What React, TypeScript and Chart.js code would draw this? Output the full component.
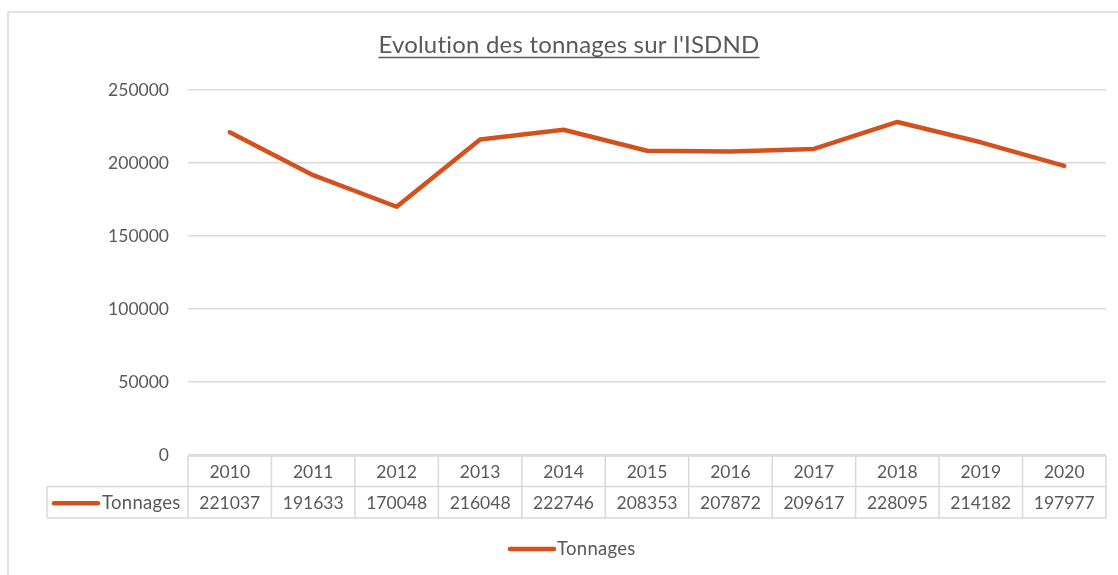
import React, { useEffect, useRef } from "react";
import { Chart, registerables } from "chart.js";

Chart.register(...registerables);

const years = ["2010", "2011", "2012", "2013", "2014", "2015", "2016", "2017", "2018", "2019", "2020"];
const tonnages = [221037, 191633, 170048, 216048, 222746, 208353, 207872, 209617, 228095, 214182, 197977];
const yMin = 0;
const yMax = 250000;
const yStep = 50000;
const seriesName = "Tonnages";
const titleText = "Evolution des tonnages sur l'ISDND";

const LINE = "#d4511e";
const TEXT = "#595959";
const GRID = "#d9d9d9";
const FONT = "Lato, 'Open Sans', sans-serif";

const W = 1118;
const H = 575;

const tablePlugin = {
  id: "excelTable",
  afterDraw(chart: any) {
    const ctx = chart.ctx as CanvasRenderingContext2D;
    const xs = chart.scales.x;
    const ys = chart.scales.y;
    ctx.save();
    (ctx as any).letterSpacing = "0.2px";

    // outer frame (left + top visible)
    ctx.strokeStyle = GRID;
    ctx.lineWidth = 1.5;
    ctx.beginPath();
    ctx.moveTo(8, H);
    ctx.lineTo(8, 12);
    ctx.lineTo(W, 12);
    ctx.stroke();

    // title
    ctx.font = `22px ${FONT}`;
    const mw = ctx.measureText(titleText).width;
    const tSize = (22 * 382) / mw;
    ctx.font = `${tSize}px ${FONT}`;
    const tw = ctx.measureText(titleText).width;
    const cx = 569;
    ctx.fillStyle = TEXT;
    ctx.textAlign = "center";
    ctx.textBaseline = "alphabetic";
    ctx.fillText(titleText, cx, 53);
    ctx.strokeStyle = TEXT;
    ctx.lineWidth = 1.5;
    ctx.beginPath();
    ctx.moveTo(cx - tw / 2, 57.5);
    ctx.lineTo(cx + tw / 2, 57.5);
    ctx.stroke();

    // data table
    const n = years.length;
    const step = xs.getPixelForValue(1) - xs.getPixelForValue(0);
    const left = xs.getPixelForValue(0) - step / 2;
    const right = xs.getPixelForValue(n - 1) + step / 2;
    const zeroY = ys.getPixelForValue(0);
    const rTop = zeroY + 1;
    const rMid = zeroY + 31.5;
    const rBot = zeroY + 63;
    const leftCell = 47;

    ctx.strokeStyle = GRID;
    ctx.lineWidth = 1.5;
    ctx.beginPath();
    ctx.moveTo(left, rTop);
    ctx.lineTo(right, rTop);
    ctx.moveTo(leftCell, rMid);
    ctx.lineTo(right, rMid);
    ctx.moveTo(leftCell, rBot);
    ctx.lineTo(right, rBot);
    for (let i = 0; i <= n; i++) {
      const bx = left + i * step;
      ctx.moveTo(bx, rTop);
      ctx.lineTo(bx, rBot);
    }
    ctx.moveTo(leftCell, rMid);
    ctx.lineTo(leftCell, rBot);
    ctx.stroke();

    (ctx as any).letterSpacing = "0px";
    ctx.font = `17.5px ${FONT}`;
    ctx.fillStyle = TEXT;
    ctx.textAlign = "center";
    ctx.textBaseline = "middle";
    for (let i = 0; i < n; i++) {
      const px = xs.getPixelForValue(i);
      ctx.fillText(years[i], px, (rTop + rMid) / 2 + 1);
      ctx.fillText(String(tonnages[i]), px, (rMid + rBot) / 2 + 1);
    }

    // legend key
    const drawKey = (x0: number, x1: number, yy: number, tx: number) => {
      ctx.strokeStyle = LINE;
      ctx.lineWidth = 4.5;
      ctx.lineCap = "round";
      ctx.beginPath();
      ctx.moveTo(x0, yy);
      ctx.lineTo(x1, yy);
      ctx.stroke();
      ctx.font = `18.5px ${FONT}`;
      (ctx as any).letterSpacing = "0.3px";
      ctx.fillStyle = TEXT;
      ctx.textAlign = "left";
      ctx.textBaseline = "middle";
      ctx.fillText(seriesName, tx, yy);
    };
    drawKey(54, 98, (rMid + rBot) / 2 + 1, 102);

    // bottom legend
    drawKey(510, 554, 549, 557);

    ctx.restore();
  },
};

export default function App() {
  const ref = useRef<HTMLCanvasElement | null>(null);
  useEffect(() => {
    if (!ref.current) return;
    const chart = new Chart(ref.current, {
      type: "line",
      data: {
        labels: years,
        datasets: [
          {
            label: seriesName,
            data: tonnages,
            borderColor: LINE,
            backgroundColor: LINE,
            borderWidth: 4.5,
            pointRadius: 0,
            pointHoverRadius: 0,
            tension: 0,
            borderCapStyle: "round",
            borderJoinStyle: "round",
            fill: false,
          },
        ],
      },
      options: {
        responsive: false,
        animation: false,
        events: [],
        layout: { padding: { top: 90, right: 12, bottom: 120, left: 0 } },
        plugins: {
          legend: { display: false },
          title: { display: false },
          tooltip: { enabled: false },
        },
        scales: {
          x: {
            type: "category",
            display: false,
            offset: true,
          },
          y: {
            min: yMin,
            max: yMax,
            afterFit: (scale: any) => {
              scale.width = 188;
            },
            ticks: {
              stepSize: yStep,
              padding: 19,
              color: TEXT,
              font: { family: FONT, size: 17.5 },
              callback: (v: any) => String(v),
            },
            grid: {
              color: GRID,
              lineWidth: 1.5,
              drawTicks: false,
            },
            border: { display: false },
          },
        },
      },
      plugins: [tablePlugin],
    });
    return () => chart.destroy();
  }, []);

  return (
    <div style={{ position: "fixed", left: 0, top: 0, width: W, height: H, background: "#fff" }}>
      <canvas ref={ref} width={W} height={H} style={{ display: "block" }} />
    </div>
  );
}
